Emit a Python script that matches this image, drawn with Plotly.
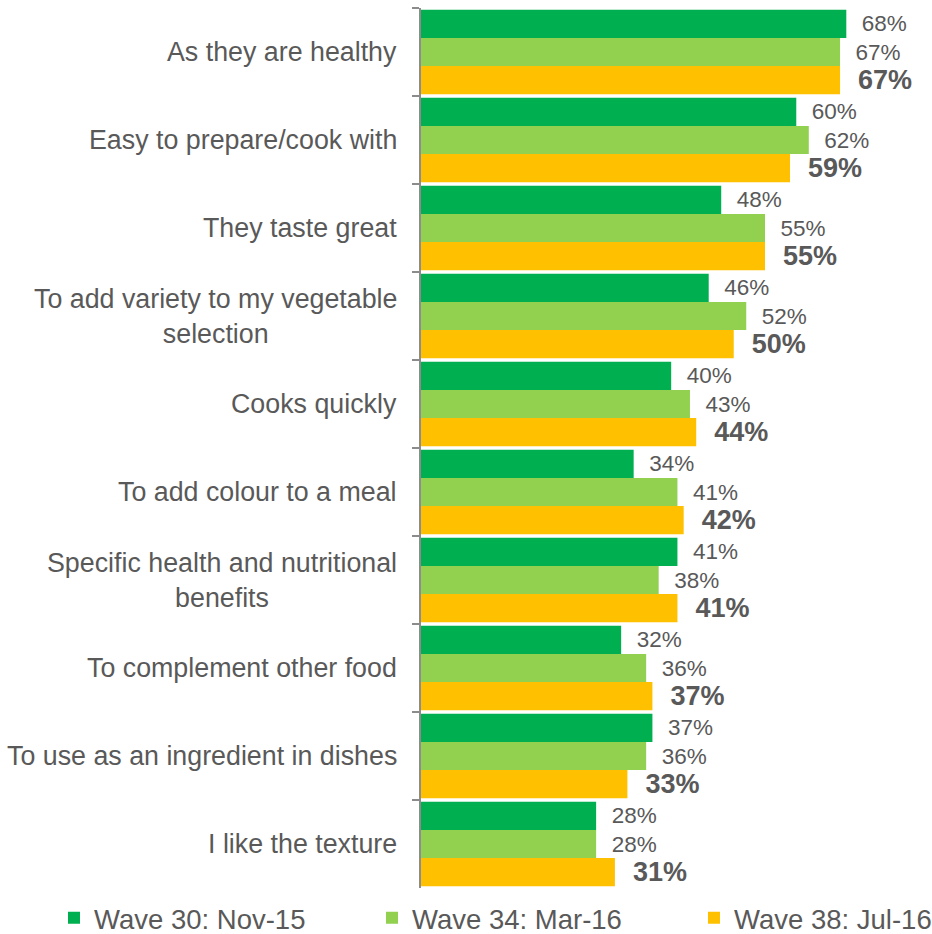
import plotly.graph_objects as go

categories = [
    "As they are healthy",
    "Easy to prepare/cook with",
    "They taste great",
    "To add variety to my vegetable<br>selection",
    "Cooks quickly",
    "To add colour to a meal",
    "Specific health and nutritional<br>benefits",
    "To complement other food",
    "To use as an ingredient in dishes",
    "I like the texture",
]
series_names = ["Wave 30: Nov-15", "Wave 34: Mar-16", "Wave 38: Jul-16"]
wave30 = [68, 60, 48, 46, 40, 34, 41, 32, 37, 28]
wave34 = [67, 62, 55, 52, 43, 41, 38, 36, 36, 28]
wave38 = [67, 59, 55, 50, 44, 42, 41, 37, 33, 31]
colors = ["#00B050", "#92D050", "#FFC000"]

FONT = "Liberation Sans, Arial, sans-serif"
GREY = "#595959"
NBSP = "\u00a0"

PLOT_LEFT = 421
PLOT_W = 932 - PLOT_LEFT
legend_keys = ["legend", "legend2", "legend3"]
legend_left_px = [54, 372, 694]

fig = go.Figure()
for name, vals, col, bold, lg in zip(series_names, [wave30, wave34, wave38], colors,
                                     [False, False, True], legend_keys):
    fig.add_trace(go.Bar(
        name=name,
        y=categories,
        x=vals,
        orientation="h",
        marker=dict(color=col, line=dict(width=0)),
        text=[f"{v}%" for v in vals],
        texttemplate=NBSP * 2 + "%{text}",
        textposition="outside",
        constraintext="none",
        cliponaxis=False,
        textfont=dict(family=FONT, size=27 if bold else 22.5, color=GREY,
                      weight="bold" if bold else "normal"),
        hoverinfo="skip",
        legend=lg,
    ))

# category labels on the left, centred for wrapped lines
for cat in categories:
    fig.add_annotation(
        x=0, xref="paper", y=cat, yref="y",
        text=cat, showarrow=False,
        xanchor="right", yanchor="middle", xshift=-22,
        align="center",
        font=dict(family=FONT, size=26.8, color=GREY),
    )

legend_style = dict(
    orientation="h", xanchor="left", yanchor="middle", y=-0.034,
    font=dict(family=FONT, size=27.5, color=GREY),
    itemclick=False, itemdoubleclick=False,
    bgcolor="rgba(0,0,0,0)",
)
legends = {
    key: dict(x=(px - PLOT_LEFT) / PLOT_W, **legend_style)
    for key, px in zip(legend_keys, legend_left_px)
}

fig.update_layout(
    width=932, height=934,
    margin=dict(l=PLOT_LEFT, r=0, t=8, b=46, autoexpand=False),
    paper_bgcolor="white", plot_bgcolor="white",
    barmode="group", bargap=0.042, bargroupgap=0,
    showlegend=True,
    **legends,
    xaxis=dict(range=[0, 81.7], showgrid=False, zeroline=False,
               showticklabels=False, showline=False, ticks=""),
    yaxis=dict(
        type="category", autorange="reversed",
        showline=True, linecolor="#8c8c8c", linewidth=1.5,
        ticks="outside", tickson="boundaries", ticklen=7,
        tickcolor="#8c8c8c", tickwidth=1.5,
        showticklabels=False, showgrid=False, zeroline=False,
    ),
)

fig.write_html("out.html")
